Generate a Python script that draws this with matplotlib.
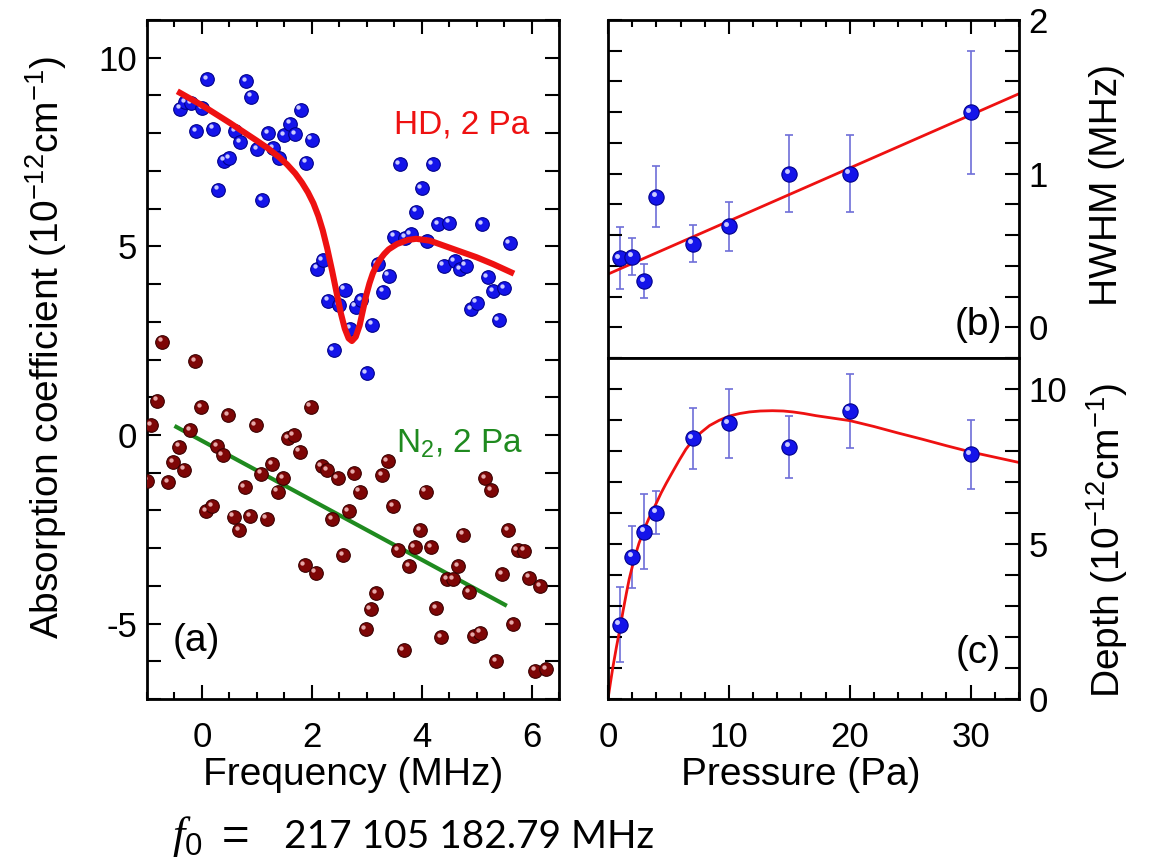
import matplotlib
matplotlib.use('Agg')
import matplotlib.pyplot as plt
from matplotlib.ticker import MultipleLocator
from matplotlib.transforms import offset_copy

plt.rcParams['font.family'] = ['Liberation Sans', 'DejaVu Sans']
plt.rcParams['mathtext.fontset'] = 'custom'
plt.rcParams['mathtext.rm'] = 'Liberation Sans'
plt.rcParams['mathtext.it'] = 'Liberation Serif:italic'
plt.rcParams['mathtext.default'] = 'regular'
plt.rcParams['axes.unicode_minus'] = False

# (a) HD, 2 Pa  (blue points)
hd_freq = [-0.4, -0.3, -0.2, -0.1, 0.0, 0.1, 0.2, 0.3, 0.4, 0.5, 0.6, 0.7, 0.8, 0.9,
           1.0, 1.1, 1.2, 1.3, 1.4, 1.5, 1.6, 1.7, 1.8, 1.9, 2.0, 2.1, 2.2, 2.3, 2.4,
           2.5, 2.6, 2.7, 2.8, 2.9, 3.0, 3.1, 3.2, 3.3, 3.4, 3.5, 3.6, 3.7, 3.8, 3.9,
           4.0, 4.1, 4.2, 4.3, 4.4, 4.5, 4.6, 4.7, 4.8, 4.9, 5.0, 5.1, 5.2, 5.3, 5.4,
           5.5, 5.6]
hd_abs = [8.65, 8.83, 8.79, 8.05, 8.66, 9.43, 8.12, 6.50, 7.27, 7.33, 8.06, 7.76, 9.37, 8.97,
          7.57, 6.22, 8.00, 7.60, 7.35, 7.94, 8.25, 7.98, 8.62, 7.22, 7.83, 4.41, 4.64, 3.56, 2.24,
          3.44, 3.85, 2.82, 3.40, 3.58, 1.64, 2.92, 4.52, 3.80, 4.22, 5.26, 7.17, 5.23, 5.33, 5.92,
          6.54, 5.13, 7.17, 5.59, 4.49, 5.63, 4.60, 4.40, 4.49, 3.34, 3.51, 5.59, 4.18, 3.81, 3.05,
          3.90, 5.09]
hd_fit_freq = [-0.4, 0.0, 0.5, 1.0, 1.2, 1.4, 1.55, 1.7, 1.82, 1.93, 2.03, 2.12, 2.2, 2.28,
               2.37, 2.45, 2.53, 2.6, 2.67, 2.73, 2.80, 2.87, 2.93, 2.99, 3.05, 3.11, 3.18,
               3.24, 3.32, 3.4, 3.55, 3.75, 3.9, 4.15, 4.4, 4.69, 5.0, 5.3, 5.63]
hd_fit_abs = [9.07, 8.74, 8.28, 7.80, 7.60, 7.37, 7.17, 6.93, 6.69, 6.43, 6.14, 5.80, 5.42, 4.95,
              4.35, 3.78, 3.22, 2.82, 2.56, 2.49, 2.60, 2.90, 3.30, 3.70, 4.02, 4.28, 4.50,
              4.65, 4.80, 4.92, 5.06, 5.17, 5.20, 5.15, 5.02, 4.87, 4.71, 4.53, 4.31]

# (a) N2, 2 Pa  (brown points)
n2_freq = [-1.0, -0.92, -0.82, -0.72, -0.62, -0.52, -0.42, -0.32, -0.22, -0.12, -0.02,
           0.08, 0.18, 0.28, 0.38, 0.48, 0.58, 0.68, 0.78, 0.88, 0.98,
           1.08, 1.18, 1.28, 1.38, 1.48, 1.57, 1.67, 1.78, 1.87, 1.98,
           2.07, 2.18, 2.28, 2.37, 2.47, 2.57, 2.67, 2.77, 2.87, 2.98,
           3.07, 3.17, 3.28, 3.38, 3.48, 3.57, 3.67, 3.77, 3.87, 3.97,
           4.07, 4.17, 4.27, 4.36, 4.47, 4.57, 4.66, 4.76, 4.86, 4.96,
           5.07, 5.16, 5.27, 5.36, 5.47, 5.57, 5.66, 5.75, 5.87, 5.96,
           6.06, 6.16, 6.27]
n2_abs = [-1.21, 0.26, 0.91, 2.47, -1.25, -0.72, -0.31, -0.92, 0.13, 1.95, 0.73,
          -2.02, -1.89, -0.30, -0.53, 0.52, -2.17, -2.53, -1.38, -2.15, 0.26,
          -1.03, -2.22, -0.78, -1.50, -1.14, -0.08, 0.00, -0.44, -3.45, 0.75,
          -3.65, -0.83, -0.94, -2.24, -1.14, -3.19, -2.02, -1.01, -1.50, -5.15,
          -4.62, -4.20, -1.07, -0.70, -1.89, -3.05, -5.70, -3.48, -2.98, -2.53,
          -1.50, -2.97, -4.60, -5.36, -3.83, -3.83, -3.48, -2.64, -4.16, -5.33,
          -5.24, -1.14, -1.47, -5.99, -3.69, -2.53, -5.01, -3.05, -3.07, -3.78,
          -6.25, -4.01, -6.20]
n2_fit_freq = [-0.5, 5.55]
n2_fit_abs = [0.24, -4.53]

# (b), (c) pressure dependence
pressure = [1, 2, 3, 4, 7, 10, 15, 20, 30]
hwhm = [0.45, 0.46, 0.30, 0.85, 0.545, 0.656, 1.0, 1.0, 1.40]
hwhm_err = [0.20, 0.12, 0.11, 0.20, 0.12, 0.16, 0.25, 0.25, 0.40]
hwhm_fit_p = [0, 34]
hwhm_fit = [0.346, 1.52]

depth = [2.39, 4.59, 5.40, 6.01, 8.41, 8.89, 8.14, 9.29, 7.89]
depth_err = [1.21, 1.0, 1.2, 0.70, 0.98, 1.10, 1.0, 1.2, 1.10]
depth_fit_p = [0, 0.2, 0.41, 0.7, 1.02, 1.25, 1.52, 1.75, 2.01, 2.28, 2.56, 3.03, 3.5, 4.0,
               4.4, 4.82, 5.35, 5.92, 6.45, 7.02, 7.7, 8.4, 9.2, 10.06, 10.9, 11.7, 12.6,
               13.6, 14.5, 15.3, 16.2, 17.2, 18.6, 20.0, 22.0, 24.0, 26.0, 28.0, 30.0,
               32.0, 34.0]
depth_fit = [0, 0.52, 1.04, 1.68, 2.33, 2.85, 3.41, 3.86, 4.27, 4.66, 5.02, 5.51, 5.93, 6.32,
             6.65, 6.96, 7.33, 7.72, 8.06, 8.35, 8.60, 8.82, 8.99, 9.13, 9.21, 9.26, 9.29,
             9.30, 9.29, 9.26, 9.21, 9.14, 9.06, 8.98, 8.79, 8.58, 8.38, 8.17, 7.97,
             7.80, 7.63]

W, H = 1150, 863
fig = plt.figure(figsize=(W / 100, H / 100), dpi=100)
ax_a = fig.add_axes([147 / W, 1 - 699 / H, 412 / W, 679 / H])
ax_b = fig.add_axes([608 / W, 1 - 358 / H, 411 / W, 338 / H])
ax_c = fig.add_axes([608 / W, 1 - 699 / H, 411 / W, 341 / H])


def balls(ax, x, y, color, edge, shine, size, z=3):
    ax.plot(x, y, 'o', ms=size, mfc=color, mec=edge, mew=0.8, ls='none', zorder=z)
    hl = offset_copy(ax.transData, fig=fig, x=-size * 0.17, y=size * 0.17, units='points')
    ax.plot(x, y, 'o', ms=size * 0.32, mfc=shine, mec='none', ls='none',
            transform=hl, zorder=z + 0.1)


blue, blue_edge, blue_shine = '#1414ea', '#00008a', '#c9c9ff'
brown, brown_edge, brown_shine = '#7e0606', '#3a0000', '#e6a8a8'
err_col = '#6e6ed8'
red = '#ee1111'
green = '#1f8a1f'

# panel (a)
ax_a.plot(n2_fit_freq, n2_fit_abs, color=green, lw=3, zorder=2, solid_capstyle='butt')
balls(ax_a, n2_freq, n2_abs, brown, brown_edge, brown_shine, 9.8)
balls(ax_a, hd_freq, hd_abs, blue, blue_edge, blue_shine, 9.8)
ax_a.plot(hd_fit_freq, hd_fit_abs, color=red, lw=4.4, zorder=5, solid_joinstyle='round')
ax_a.set_xlim(-1, 6.5)
ax_a.set_ylim(-7, 11)
ax_a.xaxis.set_major_locator(MultipleLocator(2))
ax_a.xaxis.set_minor_locator(MultipleLocator(0.5))
ax_a.yaxis.set_major_locator(MultipleLocator(5))
ax_a.yaxis.set_minor_locator(MultipleLocator(1))
ax_a.text(3.49, 8.0, 'HD, 2 Pa', color=red, fontsize=24, ha='left', va='baseline')
ax_a.text(3.54, -0.46, r'N$_2$, 2 Pa', color=green, fontsize=24, ha='left', va='baseline')
ax_a.text(0.119, 0.085, '(a)', transform=ax_a.transAxes, fontsize=28, ha='center', va='center')

# panel (b)
ax_b.plot(hwhm_fit_p, hwhm_fit, color=red, lw=2, zorder=2)
ax_b.errorbar(pressure, hwhm, yerr=hwhm_err, fmt='none', ecolor=err_col,
              elinewidth=1.2, capsize=3, capthick=1.2, zorder=1)
balls(ax_b, pressure, hwhm, blue, blue_edge, blue_shine, 11)
ax_b.set_xlim(0, 34)
ax_b.set_ylim(-0.2, 2)
ax_b.yaxis.set_major_locator(MultipleLocator(1))
ax_b.yaxis.set_minor_locator(MultipleLocator(0.2))
ax_b.text(0.90, 0.098, '(b)', transform=ax_b.transAxes, fontsize=28, ha='center', va='center')

# panel (c)
ax_c.plot(depth_fit_p, depth_fit, color=red, lw=2, zorder=2)
ax_c.errorbar(pressure, depth, yerr=depth_err, fmt='none', ecolor=err_col,
              elinewidth=1.2, capsize=3, capthick=1.2, zorder=1)
balls(ax_c, pressure, depth, blue, blue_edge, blue_shine, 11)
ax_c.set_xlim(0, 34)
ax_c.set_ylim(0, 11)
ax_c.yaxis.set_major_locator(MultipleLocator(5))
ax_c.yaxis.set_minor_locator(MultipleLocator(1))
ax_c.text(0.90, 0.135, '(c)', transform=ax_c.transAxes, fontsize=28, ha='center', va='center')

for ax in (ax_b, ax_c):
    ax.xaxis.set_major_locator(MultipleLocator(10))
    ax.xaxis.set_minor_locator(MultipleLocator(2))

for ax in (ax_a, ax_b, ax_c):
    for s in ax.spines.values():
        s.set_linewidth(2)
    ax.tick_params(which='both', direction='in', width=1.5, labelsize=25)
    ax.tick_params(axis='x', which='major', length=10, pad=16)
    ax.tick_params(axis='x', which='minor', length=5)
    ax.tick_params(axis='y', which='both', length=10, pad=7)

ax_a.tick_params(which='both', top=True, right=True)
ax_b.tick_params(which='both', top=True, bottom=False, left=True, right=True,
                 labelbottom=False, labelleft=False, labelright=True)
ax_c.tick_params(which='both', top=False, bottom=True, left=True, right=True,
                 labelleft=False, labelright=True)

fig.text(353 / W, 1 - 775 / H, 'Frequency (MHz)', fontsize=28, ha='center', va='center')
fig.text(801 / W, 1 - 775 / H, 'Pressure (Pa)', fontsize=28, ha='center', va='center')
fig.text(46 / W, 1 - 347 / H, r'Absorption coefficient (10$^{-12}$cm$^{-1}$)',
         fontsize=28, rotation=90, ha='center', va='center')
fig.text(1107 / W, 1 - 185 / H, 'HWHM (MHz)', fontsize=28, rotation=90, ha='center', va='center')
fig.text(1107 / W, 1 - 540 / H, r'Depth (10$^{-12}$cm$^{-1}$)', fontsize=28, rotation=90,
         ha='center', va='center')

# f0 line below the chart
fig.text(172 / W, 1 - 848 / H, r'$\mathit{f}_{0}$', fontsize=32, ha='left', va='baseline')
fig.text(215 / W, 1 - 848 / H, r'$=$', fontsize=34, ha='left', va='baseline')
fig.text(284 / W, 1 - 848 / H, '217 105 182.79 MHz', fontsize=28,
         family=['Lato', 'DejaVu Sans'], ha='left', va='baseline')

fig.savefig('out.png', dpi=100)
